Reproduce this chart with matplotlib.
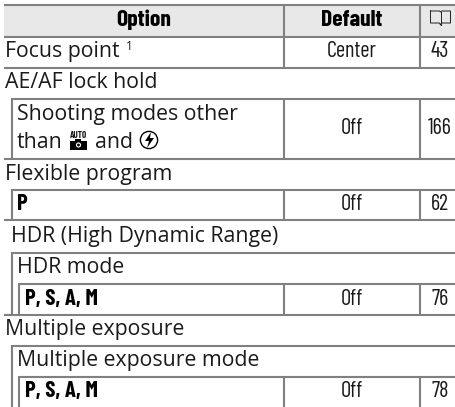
'''option defaults table, drawn in pixel coordinates
'''
import matplotlib
matplotlib.use("Agg")
import matplotlib.pyplot as plt
from matplotlib.patches import Circle, Rectangle, Polygon

WIDTH, HEIGHT = 455, 407
LINE = '#808080'
TEXT = '#1a1a1a'
REGULAR = 'Open Sans'
NARROW = ['Barlow Condensed', 'Liberation Sans']

# table content
headers = ['Option', 'Default']
titles = ['Focus point', 'AE/AF lock hold', 'Shooting modes other', 'Flexible program',
          'HDR (High Dynamic Range)', 'HDR mode', 'Multiple exposure', 'Multiple exposure mode']
mode_labels = ['P', 'P, S, A, M', 'P, S, A, M']
defaults = ['Center', 'Off', 'Off', 'Off', 'Off']
pages = ['43', '166', '62', '76', '78']

# layout, in pixels
title_x = [5, 5, 17, 5, 11, 17, 5, 17]
title_y = [57, 88, 120, 180, 242, 273, 335, 366]
mode_x = [17, 25, 25]
mode_y = [210, 305, 397]
value_y = [57, 134, 210, 305, 397]
rules = [(5, 4), (37, 4), (68, 4), (99, 12), (159, 4), (190, 12), (220, 4), (253, 12),
         (284, 19), (315, 4), (346, 12), (377, 19)]
indents = [(12, 99, 159), (12, 190, 220), (12, 253, 315), (12, 346, 407), (19, 284, 315), (19, 377, 407)]
columns = [(5, 68), (99, 159), (190, 220), (284, 315), (377, 407)]
COL_DEFAULT, COL_PAGE = 284, 420

plt.rcParams['font.family'] = [REGULAR, 'DejaVu Sans']
fig = plt.figure(figsize=(WIDTH / 100, HEIGHT / 100), dpi=100)
ax = fig.add_axes([0, 0, 1, 1])
ax.set_xlim(0, WIDTH)
ax.set_ylim(HEIGHT, 0)
ax.axis('off')

ax.add_patch(Rectangle((4, 5), WIDTH - 4, 32, color='#e8e8e8', lw=0, zorder=0))


def hline(y, x0):
    ax.plot([x0, WIDTH], [y, y], color=LINE, lw=1.5, solid_capstyle='butt')


def vline(x, y0, y1):
    ax.plot([x, x], [y0, y1], color=LINE, lw=1.5, solid_capstyle='butt')


for y, x0 in rules:
    hline(y, x0)
for x, y0, y1 in indents:
    vline(x, y0 - 1, y1)
for y0, y1 in columns:
    vline(COL_DEFAULT, y0, y1)
    vline(COL_PAGE, y0, y1)

# header row
ax.text(144, 26, headers[0], family=NARROW, weight='bold', size=17, ha='center', va='baseline', color='black')
ax.text(352, 26, headers[1], family=NARROW, weight='bold', size=17, ha='center', va='baseline', color='black')

# book symbol in the header
bx, by = 440.5, 11
ax.plot([bx - 10, bx - 10, bx - 1, bx, bx + 1, bx + 10, bx + 10, bx + 1, bx, bx - 1, bx - 10],
        [by, by + 12, by + 12, by + 14, by + 12, by + 12, by, by, by + 1, by, by],
        color='#222222', lw=0.7)
ax.plot([bx, bx], [by + 1, by + 14], color='#222222', lw=0.7)

for label, x, y in zip(titles, title_x, title_y):
    ax.text(x, y, label, size=15.3, ha='left', va='baseline', color=TEXT)
ax.text(126, 50, '1', size=8.5, ha='left', va='baseline', color=TEXT)

# second line of the shooting modes row, with the two mode symbols
ax.text(17, 148, 'than', size=15.3, ha='left', va='baseline', color=TEXT)
ax.text(95, 148, 'and', size=15.3, ha='left', va='baseline', color=TEXT)
ax.text(79, 137.5, 'AUTO', family=NARROW, size=6.5, weight='bold', ha='center', va='baseline', color=TEXT)
ax.add_patch(Rectangle((70, 141), 17, 8.5, color='black', lw=0))
ax.add_patch(Rectangle((75, 139), 6, 2, color='black', lw=0))
ax.add_patch(Circle((78.5, 145), 2.6, color='white', lw=0))
ax.add_patch(Circle((78.5, 145), 1.4, color='black', lw=0))
ax.add_patch(Circle((149, 140), 8.6, fill=False, ec='black', lw=1.0))
ax.add_patch(Polygon([(151, 132), (145, 141), (149, 141), (147, 148), (154, 138), (150, 138)],
                     closed=True, color='black', lw=0))

for label, x, y in zip(mode_labels, mode_x, mode_y):
    ax.text(x, y, label, family=NARROW, weight='bold', size=16.5, ha='left', va='baseline', color='black')
for default, page, y in zip(defaults, pages, value_y):
    ax.text(352, y, default, family=NARROW, size=16, ha='center', va='baseline', color=TEXT)
    ax.text(440, y, page, family=NARROW, size=16, ha='center', va='baseline', color=TEXT)

fig.savefig('out.png', dpi=100)
